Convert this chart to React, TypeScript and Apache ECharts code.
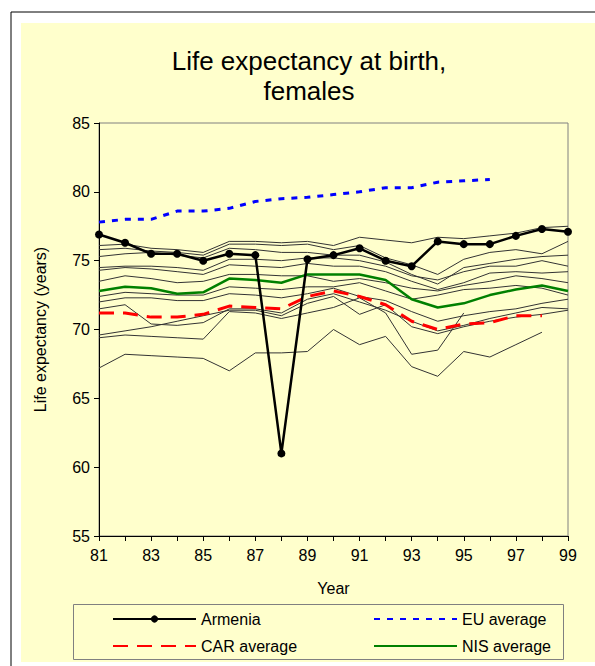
import React, { useEffect, useRef } from "react";
import * as echarts from "echarts";

const years = [81, 82, 83, 84, 85, 86, 87, 88, 89, 90, 91, 92, 93, 94, 95, 96, 97, 98, 99];
const yTicks = [55, 60, 65, 70, 75, 80, 85];

const armenia = [76.9, 76.3, 75.5, 75.5, 75.0, 75.5, 75.4, 61.0, 75.1, 75.4, 75.9, 75.0, 74.6, 76.4, 76.2, 76.2, 76.8, 77.3, 77.1];
const euAverage = [77.8, 78.0, 78.0, 78.6, 78.6, 78.8, 79.3, 79.5, 79.6, 79.8, 80.0, 80.3, 80.3, 80.7, 80.8, 80.9, null, null, null];
const carAverage = [71.2, 71.2, 70.9, 70.9, 71.1, 71.7, 71.6, 71.5, 72.4, 72.8, 72.4, 71.8, 70.6, 70.0, 70.4, 70.5, 71.0, 71.0, null];
const nisAverage = [72.8, 73.1, 73.0, 72.6, 72.7, 73.7, 73.6, 73.4, 74.0, 74.0, 74.0, 73.6, 72.2, 71.6, 71.9, 72.5, 72.9, 73.2, 72.8];

const country1 = [76.1, 76.2, 75.9, 75.8, 75.6, 76.4, 76.4, 76.3, 76.4, 76.1, 76.7, 76.5, 76.3, 76.7, 76.6, 76.8, 77.0, 77.4, 77.5];
const country2 = [75.8, 75.9, 75.7, 75.6, 75.4, 76.2, 76.2, 76.1, 76.2, 75.8, 76.1, 75.2, 74.7, 74.0, 75.1, 75.6, 75.8, 75.5, 76.4];
const country3 = [75.3, 75.5, 75.6, 75.4, 75.2, 75.9, 75.8, 75.6, 75.6, 75.4, 75.4, 74.9, 74.0, 73.3, 74.5, 74.8, 75.1, 75.3, 75.4];
const country4 = [74.5, 74.6, 74.6, 74.5, 74.3, 75.1, 75.1, 75.0, 75.2, 75.2, 75.0, 74.6, 73.9, 73.6, 74.2, 74.6, 74.6, 75.0, 74.6];
const country5 = [74.3, 74.5, 74.4, 74.2, 74.0, 74.7, 74.6, 74.5, 74.8, 74.6, 74.6, 74.2, 73.5, 72.9, 73.4, 74.1, 74.2, 74.1, 74.2];
const country6 = [73.5, 73.9, 73.7, 73.4, 73.5, 74.0, 74.0, 73.9, 73.9, 73.5, 73.7, 73.4, 73.0, 72.8, 73.2, 73.5, 73.9, 73.7, 73.4];
const country7 = [72.4, 72.7, 72.6, 72.5, 72.5, 73.1, 73.0, 72.9, 73.1, 73.1, 73.4, 72.8, 72.2, 72.5, 72.9, 73.0, 73.2, 73.0, 72.5];
const country8 = [72.0, 72.3, 72.3, 72.1, 72.1, 72.6, 72.5, 72.3, 72.6, 73.0, 72.4, 72.1, 71.3, 70.6, 71.0, 71.3, 71.5, 71.9, 72.2];
const country9 = [71.5, 71.8, 70.4, 70.3, 70.5, 71.5, 71.5, 71.2, 72.2, 72.6, 72.0, 71.4, 70.6, 69.9, 70.3, 70.8, 71.2, 71.6, 71.5];
const country10 = [69.6, 69.9, 70.2, 70.6, 71.0, 71.4, 71.4, 71.0, 71.9, 72.4, 71.1, 71.8, 70.2, 69.7, 70.2, 70.6, 70.9, 71.1, 71.4];
const country11 = [69.4, 69.6, 69.5, 69.4, 69.3, 71.3, 71.2, 70.8, 71.2, 71.6, 72.3, 71.2, 68.2, 68.5, 71.2, null, null, null, null];
const country12 = [67.2, 68.2, 68.1, 68.0, 67.9, 67.0, 68.3, 68.3, 68.4, 70.0, 68.9, 69.5, 67.3, 66.6, 68.4, 68.0, 68.9, 69.8, null];

const countries = [country1, country2, country3, country4, country5, country6, country7, country8, country9, country10, country11, country12];

const toPairs = (arr: (number | null)[]) =>
  years.map((y, i) => [y, arr[i]]).filter((p) => p[1] !== null);

const FONT = "'Liberation Sans', Arial, sans-serif";

export default function App() {
  const ref = useRef<HTMLDivElement>(null);
  useEffect(() => {
    document.body.style.margin = "0";
    const chart = echarts.init(ref.current!, undefined, { renderer: "svg" });
    const grayFromCountries = countries.map((c, idx) => ({
      name: "c" + idx,
      type: "line",
      data: toPairs(c),
      showSymbol: false,
      symbol: "none",
      lineStyle: { color: "#333333", width: 1 },
      z: 1,
      silent: true,
    }));
    const legendBase = {
      itemWidth: 83,
      itemHeight: 9,
      padding: 0,
      textStyle: { fontFamily: FONT, fontSize: 16, color: "#000" },
      selectedMode: false,
    };
    const hiddenDot = { opacity: 0 };
    chart.setOption({
      animation: false,
      backgroundColor: "#ffffff",
      graphic: [
        { type: "rect", shape: { x: 11, y: 12, width: 640, height: 700 }, style: { fill: "#ffffff", stroke: "#000", lineWidth: 1 }, z: -10 },
        { type: "rect", shape: { x: 21, y: 23, width: 640, height: 639 }, style: { fill: "#FFFFCC" }, z: -9 },
        { type: "rect", shape: { x: 73.5, y: 604.5, width: 490, height: 55 }, style: { fill: "#FFFFCC", stroke: "#808080", lineWidth: 1 }, z: -8 },
      ],
      title: {
        text: "Life expectancy at birth,\nfemales",
        left: 309,
        top: 46,
        padding: 0,
        textAlign: "center",
        textStyle: { fontFamily: FONT, fontSize: 26, fontWeight: "normal", color: "#000", lineHeight: 30 },
      },
      grid: {
        left: 99,
        top: 123,
        right: 27,
        bottom: 130,
        show: true,
        borderColor: "#808080",
        borderWidth: 1,
        backgroundColor: "transparent",
      },
      xAxis: {
        type: "value",
        min: 81,
        max: 99,
        interval: 1,
        name: "Year",
        nameLocation: "middle",
        nameGap: 44,
        nameTextStyle: { fontFamily: FONT, fontSize: 16, color: "#000" },
        axisLine: { show: true, lineStyle: { color: "#000", width: 1 } },
        axisTick: { show: true, length: 5, lineStyle: { color: "#000" } },
        axisLabel: {
          fontFamily: FONT,
          fontSize: 16,
          color: "#000",
          margin: 11,
          formatter: (v: number) => (v % 2 === 1 ? String(v) : ""),
        },
        splitLine: { show: false },
      },
      yAxis: {
        type: "value",
        min: 55,
        max: 85,
        interval: 5,
        name: "Life expectancy (years)",
        nameLocation: "middle",
        nameGap: 51,
        nameRotate: 90,
        nameTextStyle: { fontFamily: FONT, fontSize: 16, color: "#000" },
        axisLine: { show: true, lineStyle: { color: "#000", width: 1 } },
        axisTick: { show: true, length: 5, lineStyle: { color: "#000" } },
        axisLabel: {
          fontFamily: FONT,
          fontSize: 16,
          color: "#000",
          margin: 9,
          formatter: (v: number) => (yTicks.includes(v) ? String(v) : ""),
        },
        splitLine: { show: false },
      },
      legend: [
        { ...legendBase, data: ["Armenia"], left: 112, top: 611 },
        { ...legendBase, data: [{ name: "EU average", itemStyle: hiddenDot }], left: 373, top: 611 },
        { ...legendBase, data: [{ name: "CAR average", itemStyle: hiddenDot }], left: 112, top: 638 },
        { ...legendBase, data: [{ name: "NIS average", itemStyle: hiddenDot }], left: 373, top: 638 },
      ],
      series: [
        ...grayFromCountries,
        {
          name: "CAR average",
          type: "line",
          data: toPairs(carAverage),
          symbol: "none",
          lineStyle: { color: "#FF0000", width: 3, type: [15, 9] },
          itemStyle: { color: "#FF0000" },
          z: 3,
        },
        {
          name: "NIS average",
          type: "line",
          data: toPairs(nisAverage),
          symbol: "none",
          lineStyle: { color: "#008000", width: 2.5 },
          itemStyle: { color: "#008000" },
          z: 3,
        },
        {
          name: "EU average",
          type: "line",
          data: toPairs(euAverage),
          symbol: "none",
          lineStyle: { color: "#0000FF", width: 3, type: [6, 7] },
          itemStyle: { color: "#0000FF" },
          z: 3,
        },
        {
          name: "Armenia",
          type: "line",
          data: toPairs(armenia),
          symbol: "circle",
          symbolSize: 8,
          lineStyle: { color: "#000", width: 2.5 },
          itemStyle: { color: "#000" },
          z: 4,
        },
      ],
    });
    return () => chart.dispose();
  }, []);
  return <div ref={ref} style={{ width: 595, height: 666 }} />;
}
